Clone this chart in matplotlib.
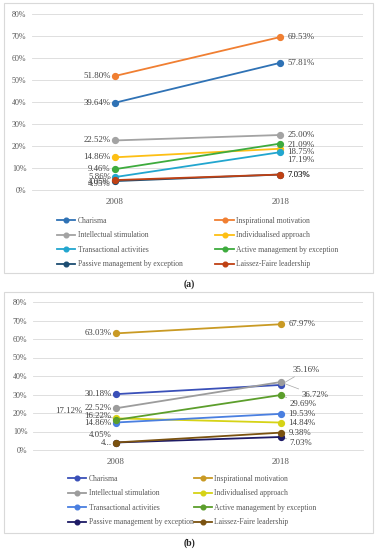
import matplotlib.pyplot as plt
from matplotlib.patches import Rectangle

plt.rcParams['font.family'] = ['Liberation Serif', 'DejaVu Serif']

years = ['2008', '2018']
styles = ['Charisma', 'Inspirational motivation', 'Intellectual stimulation',
          'Individualised approach', 'Transactional activities',
          'Active management by exception', 'Passive management by exception',
          'Laissez-Faire leadership']

# panel (a), percent
a_2008 = [39.64, 51.80, 22.52, 14.86, 5.86, 9.46, 4.05, 4.50]
a_2018 = [57.81, 69.53, 25.00, 18.75, 17.19, 21.09, 7.03, 7.03]
a_lab08 = ['39.64%', '51.80%', '22.52%', '14.86%', '5.86%', '9.46%', '4.05%', '4.95%']
a_lab18 = ['57.81%', '69.53%', '25.00%', '18.75%', '17.19%', '21.09%', '7.03%', '7.03%']
a_colors = ['#2f72b5', '#f07f32', '#a3a3a3', '#fdbf14', '#22a6cf', '#3eab3e',
            '#1d4d72', '#bf4114']

# panel (b), percent
b_2008 = [30.18, 63.03, 22.52, 17.12, 14.86, 16.22, 4.05, 4.05]
b_2018 = [35.16, 67.97, 36.72, 14.84, 19.53, 29.69, 7.03, 9.38]
b_lab08 = ['30.18%', '63.03%', '22.52%', '17.12%', '14.86%', '16.22%', '4.05%', '4...']
b_lab18 = ['35.16%', '67.97%', '36.72%', '14.84%', '19.53%', '29.69%', '7.03%', '9.38%']
b_colors = ['#3a50b8', '#c99a24', '#9c9c9c', '#d6d316', '#4a7fe0', '#5c9e2c',
            '#1e1b66', '#7a5210']

yticks = [0, 10, 20, 30, 40, 50, 60, 70, 80]

W, H = 378, 550
fig = plt.figure(figsize=(W / 100, H / 100), dpi=100)

def px_axes(left, top0, right, bottom0):
    # pixel box -> figure axes
    return fig.add_axes([left / W, 1 - bottom0 / H, (right - left) / W, (bottom0 - top0) / H])

# label offsets in pixels (dx, dy down positive, leader)
a_off08 = {6: (-4, 1), 7: (-4, 3.5)}
a_off18 = {3: (7, 3), 4: (7, 8), 5: (7, 1.5)}
b_off08 = {3: (-33, -7, True), 5: (-4, -4), 6: (-4, -8)}
b_off18 = {0: (12, -15, True), 2: (21, 13, True), 5: (9, 9, True), 6: (9, 6, True)}

def draw_panel(ax, v08, v18, lab08, lab18, colors, off08, off18, dx18):
    handles = []
    for i, name in enumerate(styles):
        h, = ax.plot([0, 1], [v08[i], v18[i]], color=colors[i], lw=1.3,
                     marker='o', ms=4.2, label=name, zorder=3 + i * 0.1)
        handles.append(h)
    for i in range(len(styles)):
        o = off08.get(i, (-4, 0))
        kw = {}
        if len(o) > 2:
            kw['arrowprops'] = dict(arrowstyle='-', color='#a6a6a6', lw=0.5,
                                    shrinkA=0, shrinkB=2)
        ax.annotate(lab08[i], (0, v08[i]), xytext=(o[0] * 0.72, -o[1] * 0.72),
                    textcoords='offset points', ha='right', va='center',
                    fontsize=6.3, color='#404040', zorder=2, **kw)
        o = off18.get(i, (dx18, 0))
        kw = {}
        if len(o) > 2:
            kw['arrowprops'] = dict(arrowstyle='-', color='#a6a6a6', lw=0.5,
                                    shrinkA=0, shrinkB=2)
        ax.annotate(lab18[i], (1, v18[i]), xytext=(o[0] * 0.72, -o[1] * 0.72),
                    textcoords='offset points', ha='left', va='center',
                    fontsize=6.3, color='#404040', zorder=2, **kw)
    ax.set_xlim(-0.5, 1.5)
    ax.set_ylim(0, 80)
    ax.set_yticks(yticks)
    ax.set_yticklabels([f'{t}%' for t in yticks])
    ax.set_xticks([0, 1])
    ax.set_xticklabels(years)
    ax.grid(axis='y', color='#d9d9d9', lw=0.6)
    ax.set_axisbelow(True)
    for s in ['top', 'right', 'left']:
        ax.spines[s].set_visible(False)
    ax.spines['bottom'].set_color('#d9d9d9')
    ax.spines['bottom'].set_linewidth(0.6)
    ax.tick_params(length=0, labelsize=5.8, labelcolor='#595959', pad=4)
    ax.tick_params(axis='x', labelsize=6.5, pad=6)
    ax.patch.set_alpha(0)
    return handles

def add_legend(handles, x, y, spacing):
    order = [0, 2, 4, 6, 1, 3, 5, 7]
    hs = [handles[i] for i in order]
    leg = fig.legend(hs, [styles[i] for i in order], ncol=2, loc='upper left',
                     bbox_to_anchor=(x / W, 1 - y / H), frameon=False,
                     fontsize=5.5, handlelength=2.4, handletextpad=0.3,
                     labelspacing=0.85, columnspacing=spacing, borderpad=0,
                     borderaxespad=0, markerscale=0.8)
    for t in leg.get_texts():
        t.set_color('#595959')

# outer frames
fig.add_artist(Rectangle((4 / W, 1 - 273 / H), 369 / W, 270 / H, transform=fig.transFigure,
                         fill=False, ec='#d9d9d9', lw=0.8))
fig.add_artist(Rectangle((4 / W, 1 - 533 / H), 369 / W, 241 / H, transform=fig.transFigure,
                         fill=False, ec='#d9d9d9', lw=0.8))

ax_a = px_axes(32, 14, 363, 190)
ha = draw_panel(ax_a, a_2008, a_2018, a_lab08, a_lab18, a_colors, a_off08, a_off18, 7)
add_legend(ha, 57, 217, 4.3)

ax_b = px_axes(33, 302, 363, 450)
hb = draw_panel(ax_b, b_2008, b_2018, b_lab08, b_lab18, b_colors, b_off08, b_off18, 8)
add_legend(hb, 68, 475, 0.0)

fig.text(189 / W, 1 - 284 / H, '(a)', ha='center', va='center', fontsize=7,
         fontweight='bold', color='#222222')
fig.text(189 / W, 1 - 543 / H, '(b)', ha='center', va='center', fontsize=7,
         fontweight='bold', color='#222222')

fig.savefig('out.png', dpi=100)
